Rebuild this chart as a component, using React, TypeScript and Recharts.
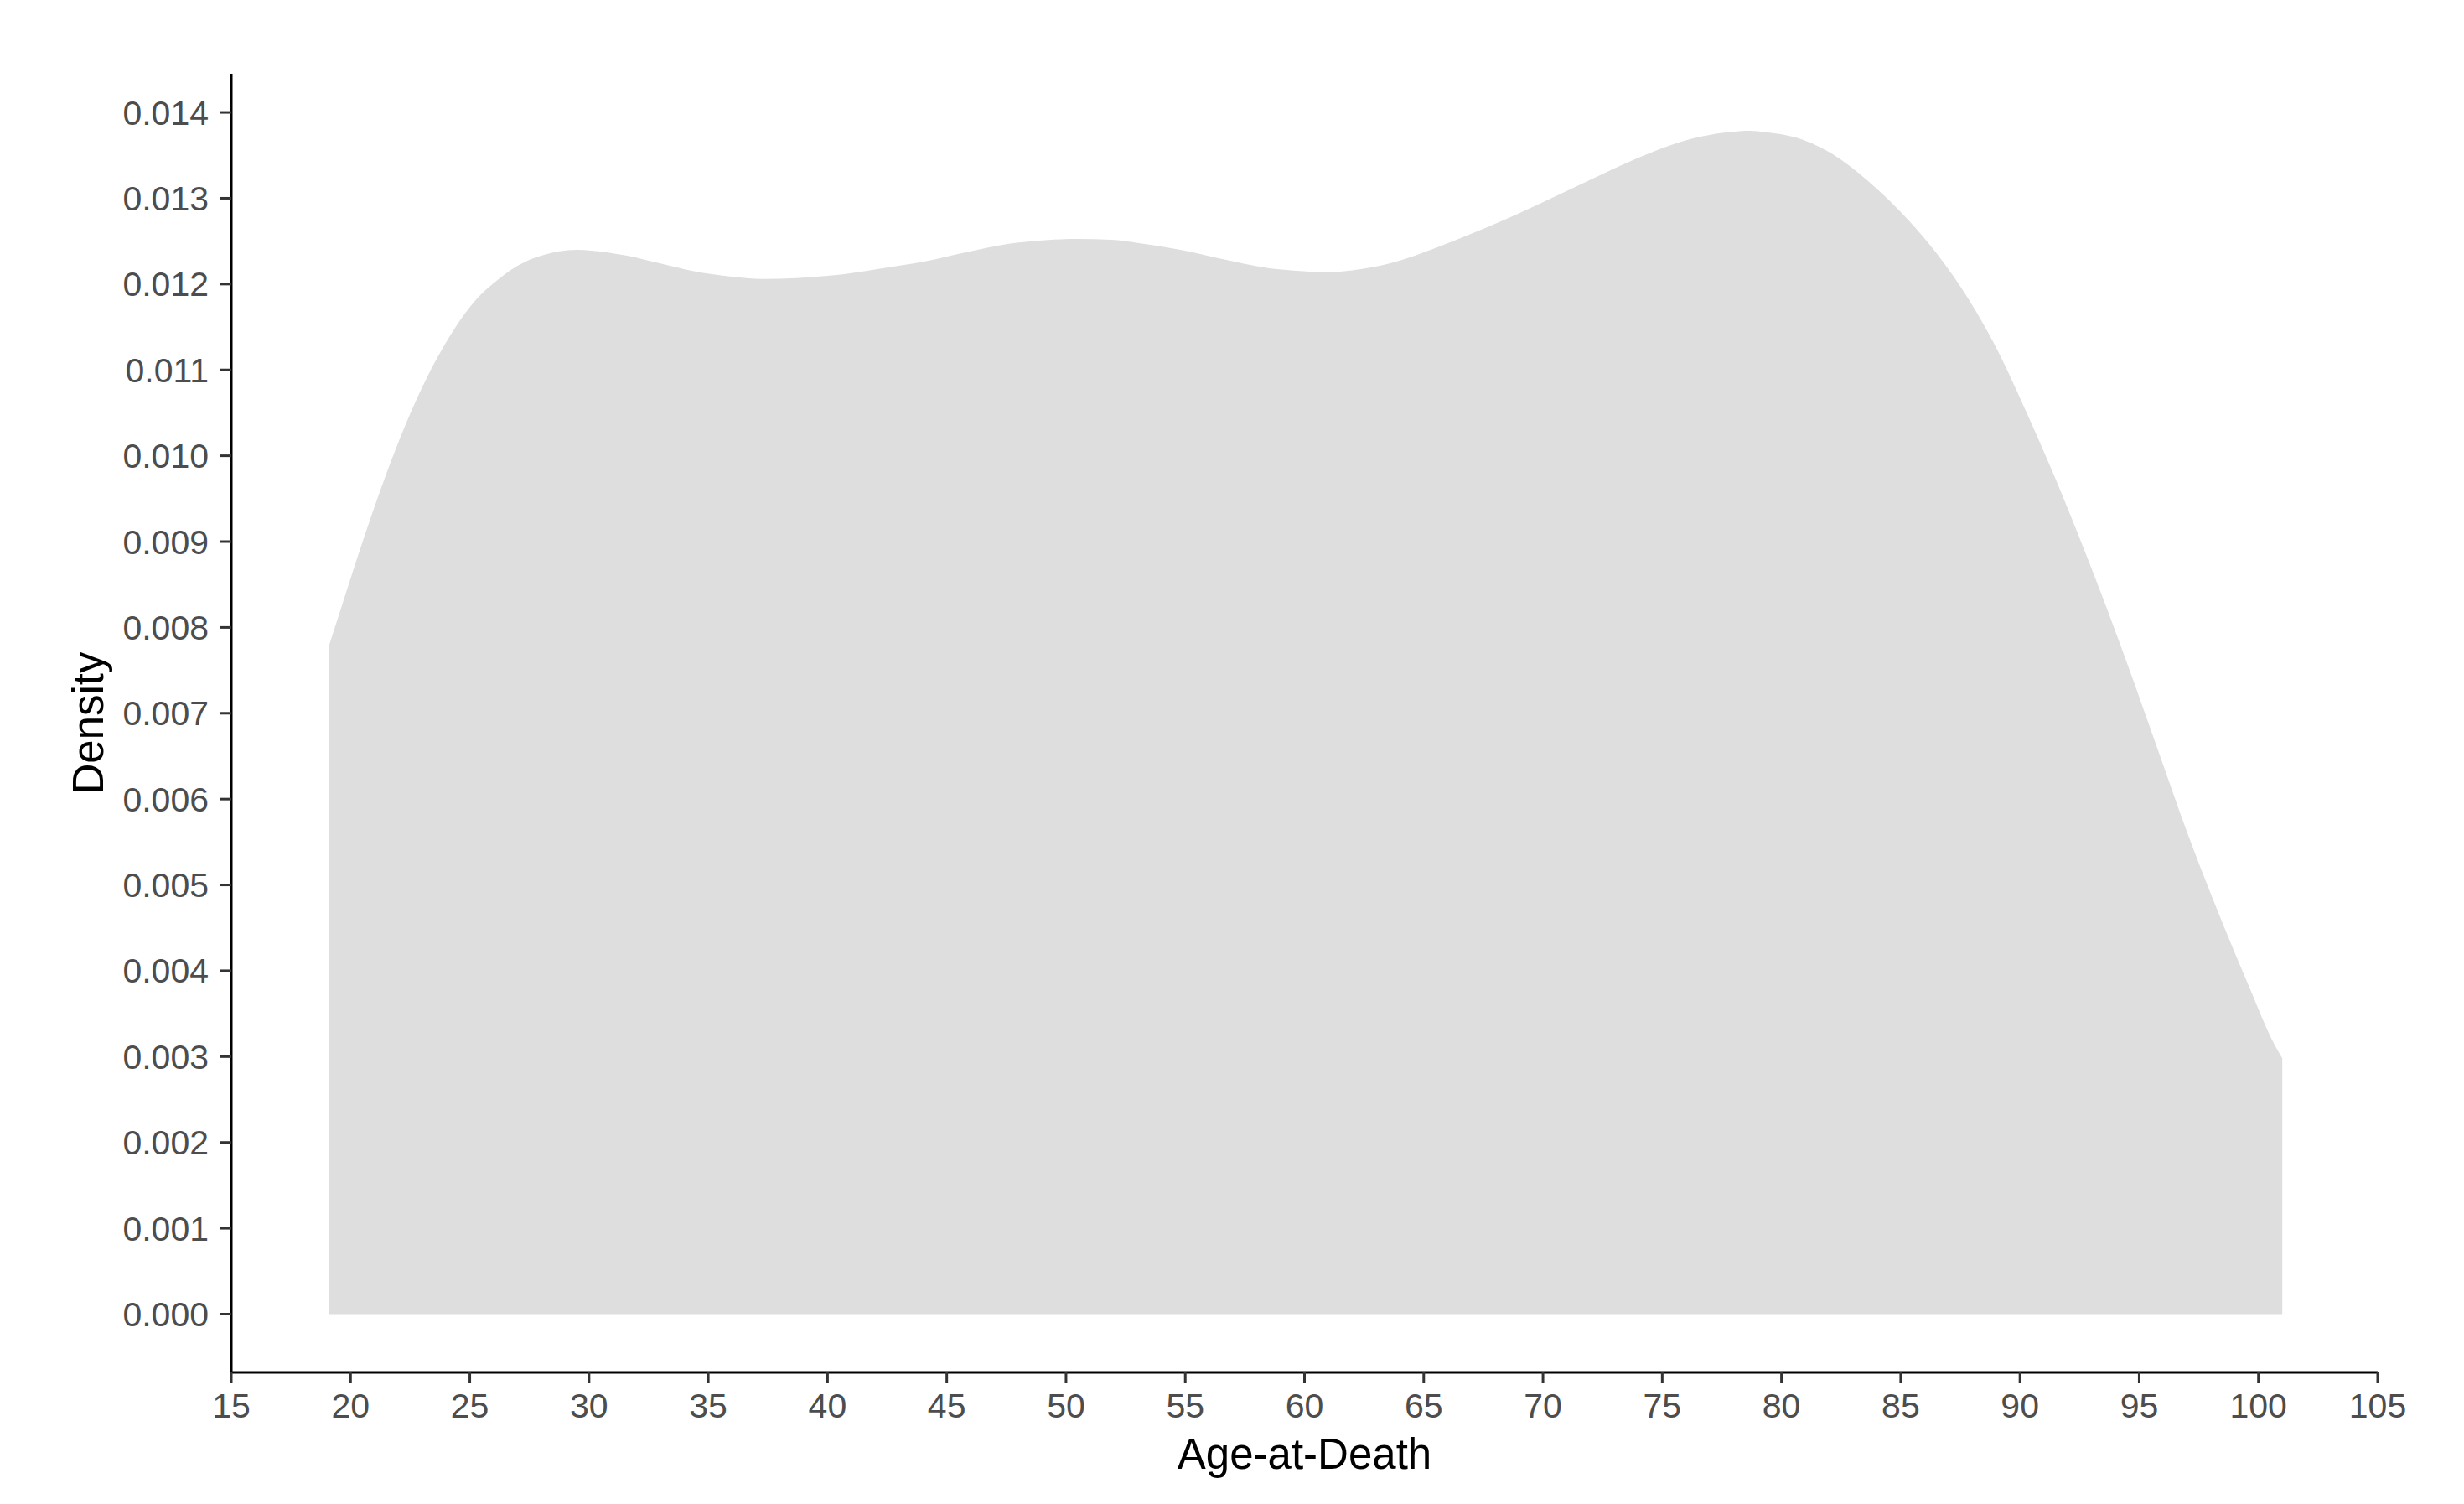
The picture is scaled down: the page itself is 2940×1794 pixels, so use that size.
import { Area, AreaChart, Label, XAxis, YAxis } from 'recharts';

// kernel density of age-at-death
const ages = [
  19.1, 19.7, 20.4, 21.1, 21.8, 22.5, 23.2, 23.9, 24.6, 25.3, 26.0, 26.7, 27.4, 28.0, 28.7,
  29.5, 30.1, 31.6, 33.0, 34.4, 35.9, 37.3, 38.7, 40.2, 42.2, 44.0, 45.8, 47.6, 49.0, 50.5,
  51.9, 53.0, 54.8, 56.6, 58.4, 60.2, 61.0, 62.0, 63.7, 65.5, 67.3, 68.4, 69.9, 71.5, 73.1,
  74.6, 76.2, 77.8, 78.7, 79.3, 80.9, 82.5, 84.0, 85.6, 86.5, 87.9, 89.0, 90.2, 91.4, 92.6,
  93.7, 94.6, 95.8, 97.0, 98.3, 99.6, 100.6, 101.0,
];

const densities = [
  0.00779, 0.00831, 0.00891, 0.00948, 0.01001, 0.01049, 0.01091, 0.01127, 0.01158, 0.01183,
  0.01201, 0.01216, 0.01227, 0.01233, 0.01238, 0.0124, 0.01239, 0.01233, 0.01224, 0.01215,
  0.01209, 0.01206, 0.01207, 0.0121, 0.01218, 0.01226, 0.01237, 0.01247, 0.01251, 0.012525,
  0.012515, 0.01248, 0.0124, 0.01229, 0.01219, 0.012145, 0.01214, 0.01216, 0.01225, 0.01242,
  0.01262, 0.01275, 0.01294, 0.01315, 0.01336, 0.01354, 0.01369, 0.01377, 0.013785, 0.01377,
  0.01368, 0.01345, 0.01311, 0.01266, 0.01236, 0.0118, 0.01126, 0.01055, 0.00979, 0.00897,
  0.00818, 0.0075, 0.00656, 0.00562, 0.00469, 0.00382, 0.00318, 0.00298,
];

const xTicks = [15, 20, 25, 30, 35, 40, 45, 50, 55, 60, 65, 70, 75, 80, 85, 90, 95, 100, 105];
const yTicks = [
  0, 0.001, 0.002, 0.003, 0.004, 0.005, 0.006, 0.007, 0.008, 0.009, 0.01, 0.011, 0.012, 0.013,
  0.014,
];

const data = ages.map((age, i) => ({ age, density: densities[i] }));

const FONT = '"Liberation Sans", Arial, Helvetica, sans-serif';
const tickStyle = { fill: '#4D4D4D', fontSize: 41, fontFamily: FONT };

function XTitle(props: any) {
  const { x, y, width } = props.viewBox;
  return (
    <text x={x + width / 2} y={y + 115} textAnchor="middle" fill="#000" fontSize={51} fontFamily={FONT}>
      Age-at-Death
    </text>
  );
}

function YTitle(props: any) {
  const { y, height } = props.viewBox;
  const cx = 123;
  const cy = y + height / 2;
  return (
    <text
      x={cx}
      y={cy}
      transform={`rotate(-90, ${cx}, ${cy})`}
      textAnchor="middle"
      fill="#000"
      fontSize={51}
      fontFamily={FONT}
    >
      Density
    </text>
  );
}

export default function App() {
  return (
    <div style={{ position: 'absolute', left: 0, top: 0, width: 2940, height: 1794, background: '#fff' }}>
      <AreaChart width={2940} height={1794} data={data} margin={{ top: 88, right: 103, left: 0, bottom: 0 }}>
        <XAxis
          type="number"
          dataKey="age"
          domain={[15, 105]}
          ticks={xTicks}
          allowDataOverflow
          height={157}
          tick={tickStyle}
          tickSize={13}
          tickMargin={12}
          tickLine={{ stroke: '#333333', strokeWidth: 3 }}
          axisLine={{ stroke: '#000', strokeWidth: 3 }}
        >
          <Label content={XTitle} />
        </XAxis>
        <YAxis
          type="number"
          domain={[-0.000679, 0.01445]}
          ticks={yTicks}
          allowDataOverflow
          width={276}
          tick={tickStyle}
          tickSize={13}
          tickMargin={14}
          tickFormatter={(v: number) => v.toFixed(3)}
          tickLine={{ stroke: '#333333', strokeWidth: 3 }}
          axisLine={{ stroke: '#000', strokeWidth: 3 }}
        >
          <Label content={YTitle} />
        </YAxis>
        <Area
          type="monotone"
          dataKey="density"
          baseValue={0}
          stroke="none"
          fill="#DEDEDE"
          fillOpacity={1}
          isAnimationActive={false}
        />
      </AreaChart>
    </div>
  );
}
